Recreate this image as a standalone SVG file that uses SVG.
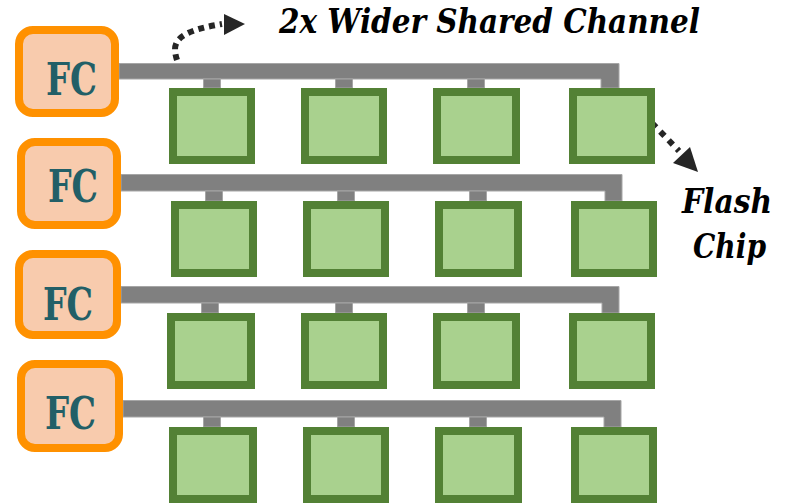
<svg xmlns="http://www.w3.org/2000/svg" width="792" height="503" viewBox="0 0 792 503">
<style>
.fc{fill:#F8CBAD;stroke:#FF9100;stroke-width:8}
.fct{font-family:"DejaVu Serif","Liberation Serif",serif;font-weight:bold;font-size:45px;fill:#225F67;text-anchor:middle}
.chip{fill:#A9D18E;stroke:#538135;stroke-width:8}
.bus{fill:#808080;stroke:#A6A6A6;stroke-width:1}
.lbl{font-family:"DejaVu Serif","Liberation Serif",serif;font-weight:bold;font-style:italic;fill:#000}
.dot{fill:none;stroke:#262626;stroke-width:6}
.head{fill:#262626}
</style>
<rect width="792" height="503" fill="#fff"/>
<g id="connectors">
  <path class="bus" d="M119,63.5 H619 V88 H601 V79 H119 Z"/>
  <rect class="bus" x="203.5" y="79" width="17" height="9"/>
  <rect class="bus" x="335.5" y="79" width="17" height="9"/>
  <rect class="bus" x="467.5" y="79" width="17" height="9"/>
  <path class="bus" d="M121,174.5 H622 V201 H605 V191 H121 Z"/>
  <rect class="bus" x="205.5" y="191" width="17" height="10"/>
  <rect class="bus" x="337.5" y="191" width="17" height="10"/>
  <rect class="bus" x="469.5" y="191" width="17" height="10"/>
  <path class="bus" d="M121,286.5 H619 V313 H602 V303 H121 Z"/>
  <rect class="bus" x="201.5" y="303" width="17" height="10"/>
  <rect class="bus" x="335.5" y="303" width="17" height="10"/>
  <rect class="bus" x="467.5" y="303" width="17" height="10"/>
  <path class="bus" d="M123,400.5 H621 V427 H604 V417 H123 Z"/>
  <rect class="bus" x="203.5" y="417" width="17" height="10"/>
  <rect class="bus" x="337.5" y="417" width="17" height="10"/>
  <rect class="bus" x="469.5" y="417" width="17" height="10"/>
  <path class="dot" d="M177,60 C172,44 173,32 222,24" stroke-dasharray="6 5"/>
  <polygon class="head" points="224,14 245,24 224,35"/>
  <path class="dot" d="M652,123 L679,151" stroke-dasharray="6 6"/>
  <polygon class="head" points="673,163 690,147 698,172"/>
</g>
<g id="fc1"><rect class="fc" x="19" y="30" width="96" height="83" rx="14"/><text class="fct" x="71.5" y="95" textLength="51" lengthAdjust="spacingAndGlyphs">FC</text></g>
<g id="fc2"><rect class="fc" x="21" y="142" width="96" height="83" rx="14"/><text class="fct" x="73" y="202" textLength="50" lengthAdjust="spacingAndGlyphs">FC</text></g>
<g id="fc3"><rect class="fc" x="19" y="254" width="98" height="81" rx="14"/><text class="fct" x="68" y="320" textLength="50" lengthAdjust="spacingAndGlyphs">FC</text></g>
<g id="fc4"><rect class="fc" x="21" y="364" width="98" height="84" rx="14"/><text class="fct" x="70.5" y="429" textLength="51" lengthAdjust="spacingAndGlyphs">FC</text></g>
<g id="c11"><rect class="chip" x="173" y="92" width="78" height="68"/></g>
<g id="c12"><rect class="chip" x="305" y="92" width="78" height="68"/></g>
<g id="c13"><rect class="chip" x="437" y="92" width="79" height="68"/></g>
<g id="c14"><rect class="chip" x="573" y="92" width="78" height="68"/></g>
<g id="c21"><rect class="chip" x="175" y="205" width="78" height="68"/></g>
<g id="c22"><rect class="chip" x="307" y="205" width="78" height="68"/></g>
<g id="c23"><rect class="chip" x="439" y="205" width="79" height="68"/></g>
<g id="c24"><rect class="chip" x="575" y="205" width="78" height="68"/></g>
<g id="c31"><rect class="chip" x="171" y="317" width="80" height="68"/></g>
<g id="c32"><rect class="chip" x="305" y="317" width="78" height="68"/></g>
<g id="c33"><rect class="chip" x="437" y="317" width="79" height="68"/></g>
<g id="c34"><rect class="chip" x="573" y="317" width="78" height="68"/></g>
<g id="c41"><rect class="chip" x="173" y="431" width="80" height="68"/></g>
<g id="c42"><rect class="chip" x="307" y="431" width="78" height="68"/></g>
<g id="c43"><rect class="chip" x="439" y="431" width="79" height="68"/></g>
<g id="c44"><rect class="chip" x="575" y="431" width="78" height="68"/></g>
<g id="labels">
  <text class="lbl" x="279" y="33" font-size="34" textLength="421" lengthAdjust="spacingAndGlyphs">2x Wider Shared Channel</text>
  <text class="lbl" x="682" y="213" font-size="33" textLength="90" lengthAdjust="spacingAndGlyphs">Flash</text>
  <text class="lbl" x="693" y="258" font-size="33" textLength="73" lengthAdjust="spacingAndGlyphs">Chip</text>
</g>
</svg>
